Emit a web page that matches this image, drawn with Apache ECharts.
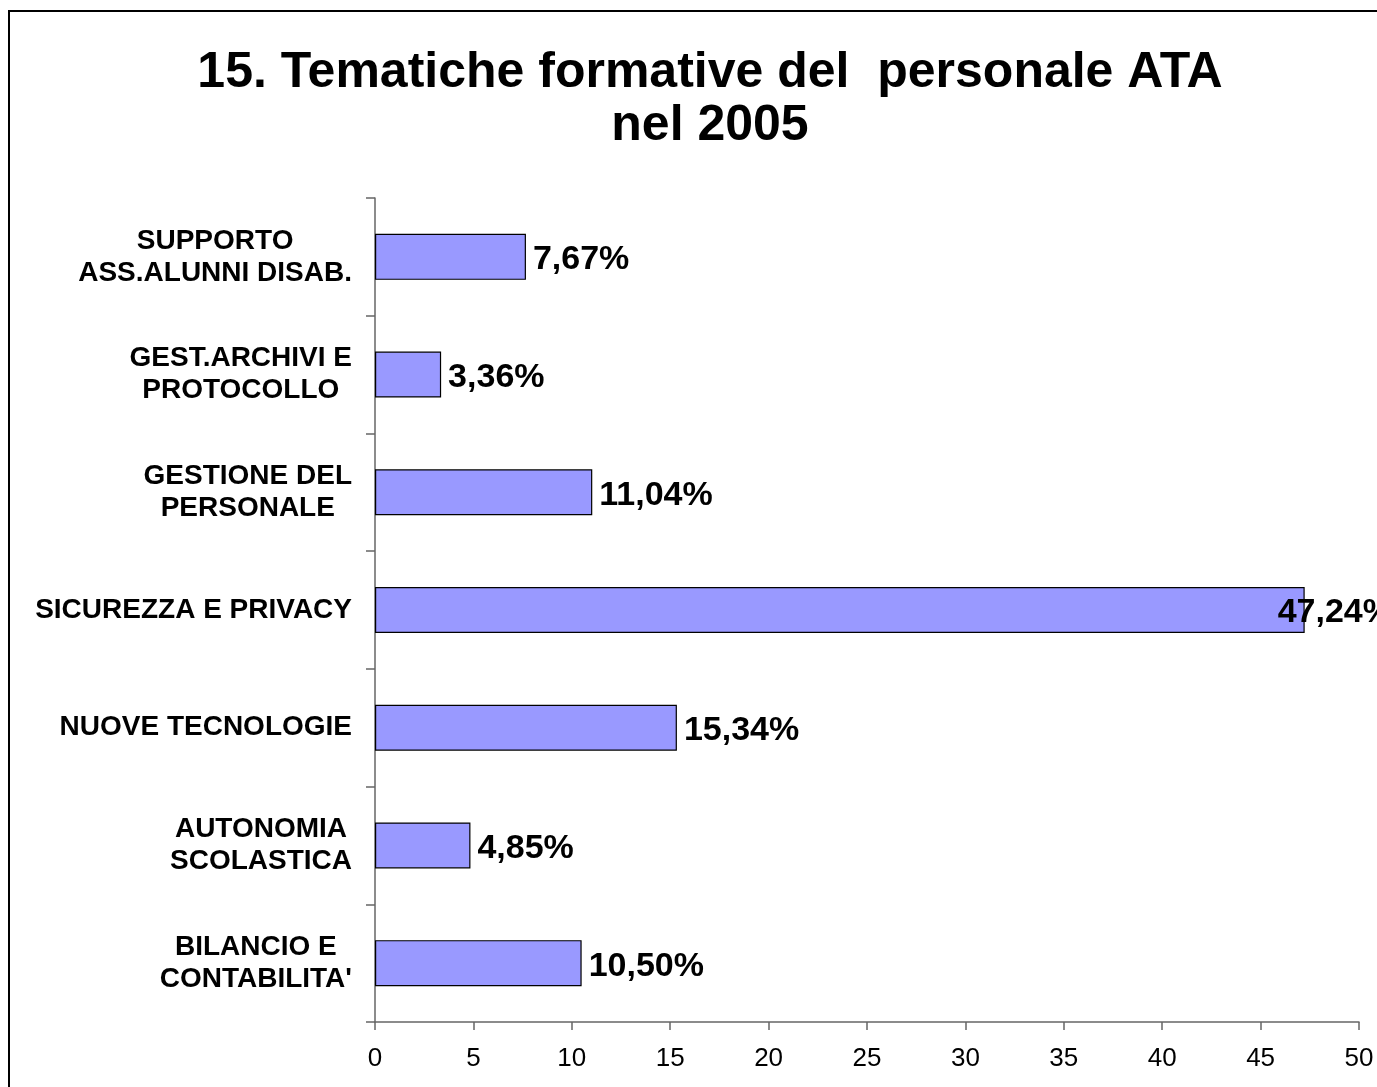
<!DOCTYPE html>
<html>
<head>
<meta charset="utf-8">
<script src="https://cdn.jsdelivr.net/npm/echarts@6/dist/echarts.min.js"></script>
<style>
  html, body { margin: 0; padding: 0; background: #fff; }
  #main { width: 1377px; height: 1087px; }
</style>
</head>
<body>
<div id="main"></div>
<script>
var myChart = echarts.init(document.getElementById('main'));

// categories from bottom to top (as drawn)
let categories = [
    "BILANCIO E\nCONTABILITA'",
    'AUTONOMIA\nSCOLASTICA',
    'NUOVE TECNOLOGIE',
    'SICUREZZA E PRIVACY',
    'GESTIONE DEL\nPERSONALE',
    'GEST.ARCHIVI E\nPROTOCOLLO',
    'SUPPORTO\nASS.ALUNNI DISAB.'
]
let values = [10.50, 4.85, 15.34, 47.24, 11.04, 3.36, 7.67] // percentuali
let xTicks = [0, 5, 10, 15, 20, 25, 30, 35, 40, 45, 50]

var option = {
    animation: false,
    backgroundColor: '#fff',
    textStyle: { fontFamily: 'Liberation Sans, Arial, sans-serif' },
    title: {
        text: '15. Tematiche formative del  personale ATA\nnel 2005',
        left: 705, // centro del titolo
        textAlign: 'center',
        top: 42,
        textStyle: {
            fontSize: 50,
            fontWeight: 'bold',
            color: '#000',
            lineHeight: 53,
            fontFamily: 'Liberation Sans, Arial, sans-serif'
        }
    },
    graphic: [{
        type: 'rect',
        shape: { x: 9, y: 11, width: 1420, height: 1120 },
        style: { fill: 'none', stroke: '#000', lineWidth: 2 },
        silent: true
    }],
    grid: { left: 375, right: 18, top: 198, bottom: 65 },
    xAxis: {
        type: 'value',
        min: xTicks[0],
        max: xTicks[xTicks.length - 1],
        interval: 5,
        splitLine: { show: false },
        axisLine: { show: true, lineStyle: { color: '#666', width: 1.5 } },
        axisTick: { show: true, length: 8, lineStyle: { color: '#666', width: 1.5 } },
        axisLabel: { fontSize: 26, color: '#000', margin: 24 }
    },
    yAxis: {
        type: 'category',
        data: categories,
        axisLine: { show: true, lineStyle: { color: '#666', width: 1.5 } },
        axisTick: { show: true, length: 9, lineStyle: { color: '#666', width: 1.5 } },
        axisLabel: {
            margin: 23,
            align: 'right',
            formatter: function (v) {
                return v.split('\n').map(s => '{a|' + s + '}').join('\n')
            },
            rich: {
                a: { fontSize: 28, fontWeight: 'bold', color: '#000', align: 'center', lineHeight: 32 }
            }
        }
    },
    series: [{
        type: 'bar',
        data: values.map((v, i) => {
            // l'etichetta del valore massimo rientra nell'area del grafico
            if (v === Math.max(...values)) {
                return { value: v, label: { offset: [-34, 3] } }
            }
            return v
        }),
        barWidth: 46,
        itemStyle: { color: '#9999FF', borderColor: '#000', borderWidth: 1.2 },
        label: {
            show: true,
            position: 'right',
            distance: 7,
            offset: [0, 3],
            fontSize: 34,
            fontWeight: 'bold',
            color: '#000',
            formatter: x => x.value.toFixed(2).replace('.', ',') + '%'
        }
    }]
};

myChart.setOption(option);
</script>
</body>
</html>
